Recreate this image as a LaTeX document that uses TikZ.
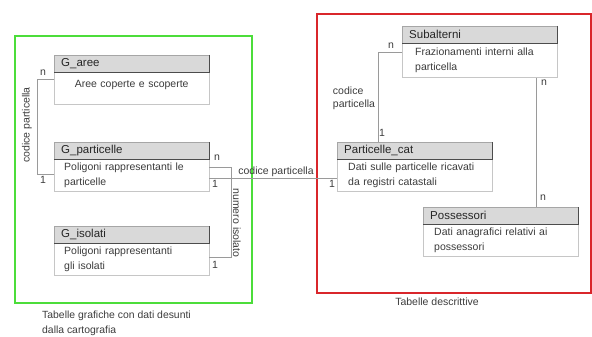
\documentclass[tikz,border=0pt]{standalone}
\usepackage{fontspec}
\setmainfont{Liberation Sans}
\usepackage{xcolor}
\usetikzlibrary{positioning, calc}

\definecolor{testo}{HTML}{3C3C3C}
\definecolor{linea}{HTML}{9A9A9A}
\definecolor{verde}{HTML}{4CDD3A}
\definecolor{rosso}{HTML}{D9262B}

\begin{document}
\begin{tikzpicture}[x=1pt, y=-1pt,
  thead/.style={rectangle, draw=gray!70, fill=gray!30, minimum width=155pt, minimum height=17pt, inner xsep=7pt, inner ysep=0pt, text width=141pt, align=left, anchor=north west, font=\fontsize{11.5}{13}\selectfont, text=black!85},
  tbody/.style={rectangle, draw=gray!45, fill=white, minimum width=155pt, minimum height=32pt, inner xsep=10pt, inner ysep=0pt, text width=135pt, align=left, below=0pt of #1, font=\fontsize{10.5}{15}\selectfont, text=testo},
  shade/.style={draw=black!70, line width=1.6pt},
  link/.style={draw=linea, line width=0.8pt},
  card/.style={font=\fontsize{10.5}{12}\selectfont, text=testo, inner sep=0pt},
  lbl/.style={font=\fontsize{10.5}{13}\selectfont, text=testo, inner sep=0pt},
  gruppo/.style={rectangle, line width=1.9pt, anchor=north west, inner sep=0pt}
]
  \useasboundingbox (0,0) rectangle (592,337);

  % cornici dei gruppi
  \node[gruppo, draw=verde, minimum width=237pt, minimum height=267pt] (grafiche) at (14,35) {};
  \node[gruppo, draw=rosso, minimum width=274pt, minimum height=279pt] (descrittive) at (316,13) {};

  % tabelle grafiche
  \node[thead] (aree-h) at (54,55) {G\_aree};
  \node[tbody=aree-h, align=center, text depth=10pt] (aree-b) {Aree coperte e scoperte};
  \node[thead] (part-h) at (54,142) {G\_particelle};
  \node[tbody=part-h] (part-b) {Poligoni rappresentanti le particelle};
  \node[thead] (isol-h) at (54,226) {G\_isolati};
  \node[tbody=isol-h] (isol-b) {Poligoni rappresentanti\\gli isolati};

  % tabelle descrittive
  \node[thead] (sub-h) at (402,26) {Subalterni};
  \node[tbody=sub-h, inner xsep=13pt, text width=129pt, minimum height=34pt] (sub-b) {Frazionamenti interni alla particella};
  \node[thead] (pcat-h) at (337,142) {Particelle\_cat};
  \node[tbody=pcat-h, inner xsep=11pt, text width=133pt] (pcat-b) {Dati sulle particelle ricavati da registri catastali};
  \node[thead] (poss-h) at (423,207) {Possessori};
  \node[tbody=poss-h, inner xsep=11pt, text width=133pt] (poss-b) {Dati anagrafici relativi ai possessori};

  \foreach \t in {aree, part, isol, sub, pcat, poss}
    \draw[shade] (\t-h.north east) -- (\t-h.south east) -- (\t-h.south west);

  % collegamenti
  \draw[link] ([yshift=-7pt]aree-b.north west) -- ++(-17,0) |- ([yshift=-15pt]part-b.north west);
  \draw[link] ([yshift=-8pt]part-b.north east) -- ++(22,0) |- ([yshift=-14pt]isol-b.north east);
  \draw[link] ([yshift=-19pt]part-b.north east) -- ([yshift=-19pt]part-b.north east -| pcat-b.west);
  \draw[link] ([yshift=-9pt]sub-b.north west) -| ([xshift=41pt]pcat-h.north west);
  \draw[link] ([xshift=-21pt]sub-b.south east) -- ([xshift=-21pt]sub-b.south east |- poss-h.north);

  % etichette
  \node[lbl, rotate=90] (l-aree) at (27,125) {codice particella};
  \node[lbl, rotate=-90] (l-isol) at (237,223) {numero isolato};
  \node[lbl] (l-pcat) at (276,172) {codice particella};
  \node[lbl, align=left] (l-sub) at (354,98) {codice\\particella};

  % cardinalita
  \node[card] (m1) at (43,73) {n};
  \node[card] (m2) at (43,180) {1};
  \node[card] (m3) at (217,158) {n};
  \node[card] (m4) at (215,184) {1};
  \node[card] (m5) at (215,265) {1};
  \node[card] (m6) at (332,184) {1};
  \node[card] (m7) at (391,46) {n};
  \node[card] (m8) at (382,133) {1};
  \node[card] (m9) at (544,83) {n};
  \node[card] (m10) at (543,198) {n};

  % didascalie
  \node[lbl, align=left, anchor=north west, font=\fontsize{10.4}{15}\selectfont] (d-graf) at (42,311) {Tabelle grafiche con dati desunti\\dalla cartografia};
  \node[lbl] (d-descr) at (437,302) {Tabelle descrittive};
\end{tikzpicture}
\end{document}
